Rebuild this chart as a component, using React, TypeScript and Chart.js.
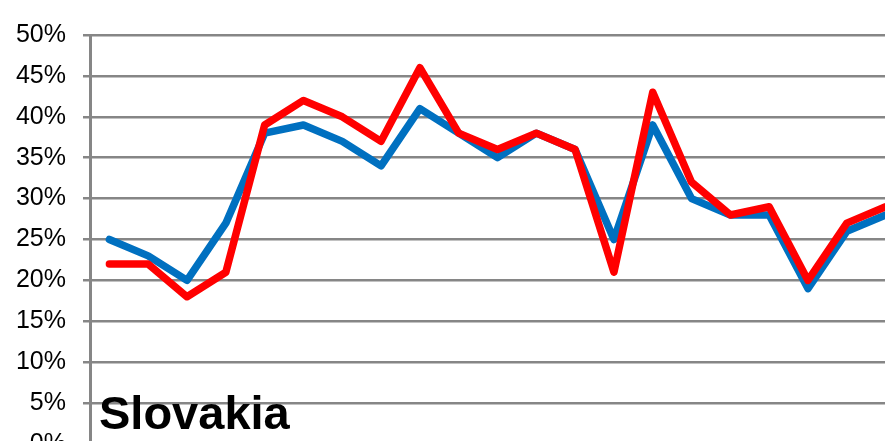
import React, { useEffect, useRef } from "react";
import { Chart, registerables } from "chart.js";

Chart.register(...registerables);

const categories: string[] = [
  "1", "2", "3", "4", "5", "6", "7", "8", "9", "10", "11",
  "12", "13", "14", "15", "16", "17", "18", "19", "20", "21",
];
const blueSeries: number[] = [25, 23, 20, 27, 38, 39, 37, 34, 41, 38, 35, 38, 36, 25, 39, 30, 28, 28, 19, 26, 28];
const redSeries: number[] = [22, 22, 18, 21, 39, 42, 40, 37, 46, 38, 36, 38, 36, 21, 43, 32, 28, 29, 20, 27, 29];
const yTicks: number[] = [0, 5, 10, 15, 20, 25, 30, 35, 40, 45, 50];
const chartTitle = "Slovakia";

const FONT = "'Liberation Sans', Arial, sans-serif";

export default function App() {
  const ref = useRef<HTMLCanvasElement | null>(null);

  useEffect(() => {
    const canvas = ref.current;
    if (!canvas) return;
    const titlePlugin = {
      id: "cornerTitle",
      afterDraw(chart: any) {
        const { ctx, chartArea } = chart;
        ctx.save();
        ctx.fillStyle = "#000000";
        ctx.font = `bold 47px ${FONT}`;
        ctx.textAlign = "left";
        ctx.textBaseline = "alphabetic";
        ctx.fillText(chartTitle, chartArea.left + 9, chartArea.bottom - 15);
        ctx.restore();
      },
    };
    const chart = new Chart(canvas, {
      type: "line",
      data: {
        labels: categories,
        datasets: [
          {
            label: "red",
            data: redSeries,
            borderColor: "#FF0000",
            backgroundColor: "#FF0000",
            borderWidth: 7.5,
            pointRadius: 0,
            tension: 0,
            borderCapStyle: "round",
            borderJoinStyle: "round",
            order: 0,
          },
          {
            label: "blue",
            data: blueSeries,
            borderColor: "#0070C0",
            backgroundColor: "#0070C0",
            borderWidth: 7.5,
            pointRadius: 0,
            tension: 0,
            borderCapStyle: "round",
            borderJoinStyle: "round",
            order: 1,
          },
        ],
      },
      options: {
        responsive: false,
        animation: false,
        devicePixelRatio: 1,
        layout: { padding: { top: 35, bottom: 27, left: 0, right: 15 } },
        plugins: {
          legend: { display: false },
          tooltip: { enabled: false },
          title: { display: false },
        },
        scales: {
          x: {
            display: false,
            offset: true,
          },
          y: {
            min: 0,
            max: 50,
            afterFit(scale: any) {
              scale.width = 90;
            },
            afterBuildTicks(scale: any) {
              scale.ticks = yTicks.map((v) => ({ value: v }));
            },
            ticks: {
              padding: 17,
              color: "#000000",
              font: { family: FONT, size: 25 },
              callback: (v: any) => `${v}%`,
            },
            grid: {
              color: "#868686",
              lineWidth: 2.5,
              drawTicks: true,
              tickLength: 7,
              tickColor: "#868686",
            },
            border: { display: true, color: "#868686", width: 3 },
          },
        },
      },
      plugins: [titlePlugin],
    });
    return () => chart.destroy();
  }, []);

  return (
    <div
      style={{
        position: "absolute",
        left: 0,
        top: 0,
        width: 885,
        height: 441,
        overflow: "hidden",
        background: "#ffffff",
      }}
    >
      <canvas ref={ref} width={920} height={476} style={{ display: "block" }} />
    </div>
  );
}
